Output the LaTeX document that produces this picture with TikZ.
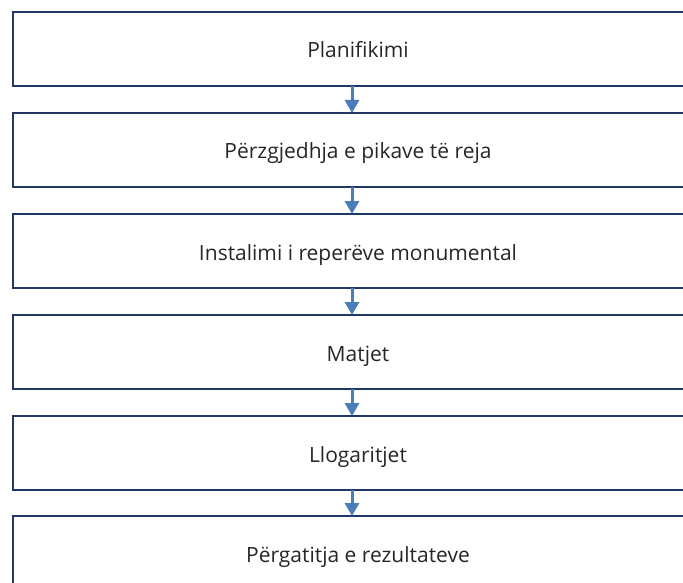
\documentclass[tikz,border=0pt]{standalone}
\usepackage{fontspec}
\setmainfont{Open Sans}
\usetikzlibrary{positioning,arrows.meta}
\definecolor{hapvija}{HTML}{1F3864}
\definecolor{shigjeta}{HTML}{4A7EBB}
\tikzset{
	hap/.style={draw=hapvija, line width=2.2pt, minimum width=690pt, minimum height=74pt, inner sep=0pt, outer sep=0pt, text height=18pt, text depth=0pt, text=black!85, font=\fontsize{21}{25}\selectfont},
	lidhje/.style={draw=shigjeta, line width=3pt, -{Triangle[width=14pt,length=13pt]}}
}
\begin{document}
\begin{tikzpicture}[x=1pt, y=-1pt]
	\useasboundingbox (0,0) rectangle (683,583);
	\node[hap] (plan) at (358,49) {Planifikimi};
	\node[hap, below=27pt of plan] (zgjedh) {Përzgjedhja e pikave të reja};
	\node[hap, below=27pt of zgjedh] (instal) {Instalimi i reperëve monumental};
	\node[hap, below=27pt of instal] (matje) {Matjet};
	\node[hap, below=27pt of matje] (llog) {Llogaritjet};
	\node[hap, below=26pt of llog] (pergat) {Përgatitja e rezultateve};
	\coordinate (boshti) at (352,0);
	
	\draw[lidhje] (plan.south -| boshti) -- (zgjedh.north -| boshti);
	\draw[lidhje] (zgjedh.south -| boshti) -- (instal.north -| boshti);
	\draw[lidhje] (instal.south -| boshti) -- (matje.north -| boshti);
	\draw[lidhje] (matje.south -| boshti) -- (llog.north -| boshti);
	\draw[lidhje] (llog.south -| boshti) -- (pergat.north -| boshti);
\end{tikzpicture}
\end{document}
